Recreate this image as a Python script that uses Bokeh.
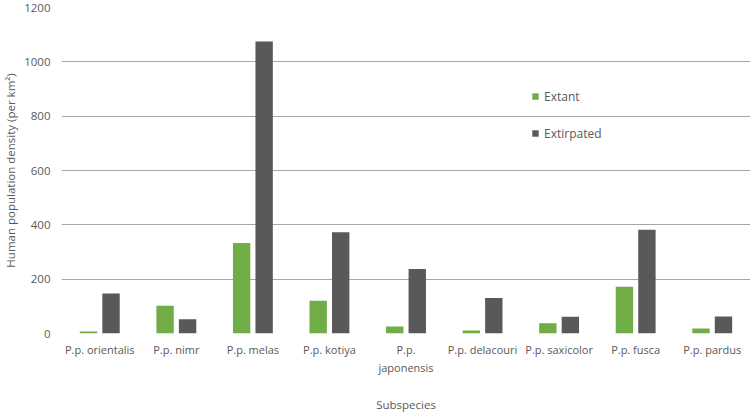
from bokeh.plotting import figure
from bokeh.models import ColumnDataSource, FactorRange, Legend, LegendItem
from bokeh.transform import dodge
from bokeh.embed import file_html
from bokeh.resources import INLINE

subspecies = ["P.p. orientalis", "P.p. nimr", "P.p. melas", "P.p. kotiya", "P.p.\njaponensis",
              "P.p. delacouri", "P.p. saxicolor", "P.p. fusca", "P.p. pardus"]
extant = [7, 102, 333, 121, 26, 11, 38, 172, 18]
extirpated = [147, 52, 1075, 373, 237, 131, 62, 382, 63]
y_ticks = [0, 200, 400, 600, 800, 1000, 1200]

src = ColumnDataSource(dict(sub=subspecies, extant=extant, extirpated=extirpated))

FONT = "Open Sans"
TXT = "#595959"

p = figure(width=750, height=414, x_range=FactorRange(*subspecies, range_padding=0),
           y_range=(0, 1200), output_backend="svg", toolbar_location=None,
           min_border_left=57, min_border_right=0, min_border_top=7, min_border_bottom=80)
p.outline_line_color = None
p.background_fill_color = "white"

r1 = p.vbar(x=dodge("sub", -0.147, range=p.x_range), top="extant", width=0.227, source=src,
            fill_color="#70AD47", line_color=None)
r2 = p.vbar(x=dodge("sub", 0.147, range=p.x_range), top="extirpated", width=0.227, source=src,
            fill_color="#595959", line_color=None)

p.xgrid.grid_line_color = None
p.ygrid.grid_line_color = "#a6a6a6"
p.ygrid.grid_line_width = 1
p.yaxis.ticker = y_ticks

for ax in (p.xaxis[0], p.yaxis[0]):
    ax.axis_line_color = None
    ax.major_tick_line_color = None
    ax.minor_tick_line_color = None
    ax.major_tick_out = 0
    ax.major_tick_in = 0
    ax.minor_tick_out = 0
    ax.minor_tick_in = 0
    ax.major_label_text_font = FONT
    ax.major_label_text_color = TXT
    ax.axis_label_text_font = FONT
    ax.axis_label_text_font_size = "11.5px"
    ax.axis_label_text_color = TXT
    ax.axis_label_text_font_style = "normal"

p.xaxis.major_label_text_font_size = "11px"
p.yaxis.major_label_text_font_size = "11.5px"
p.yaxis.axis_label = "Human population density (per km²)"
p.yaxis.major_label_standoff = 11
p.yaxis.axis_label_standoff = 3
p.xaxis.axis_label = "Subspecies"
p.xaxis.major_label_standoff = 8
p.xaxis.axis_label_standoff = 19

legend = Legend(items=[LegendItem(label="Extant", renderers=[r1]),
                       LegendItem(label="Extirpated", renderers=[r2])],
                location=(470, 190), orientation="vertical")
legend.glyph_width = 8
legend.glyph_height = 8
legend.label_text_font = FONT
legend.label_text_font_size = "12px"
legend.label_text_color = TXT
legend.label_standoff = 5
legend.label_height = 20
legend.spacing = 17
legend.padding = 5
legend.margin = 0
legend.border_line_color = None
legend.background_fill_alpha = 0
p.add_layout(legend, "center")

open("out.html", "w").write(file_html(p, INLINE))
